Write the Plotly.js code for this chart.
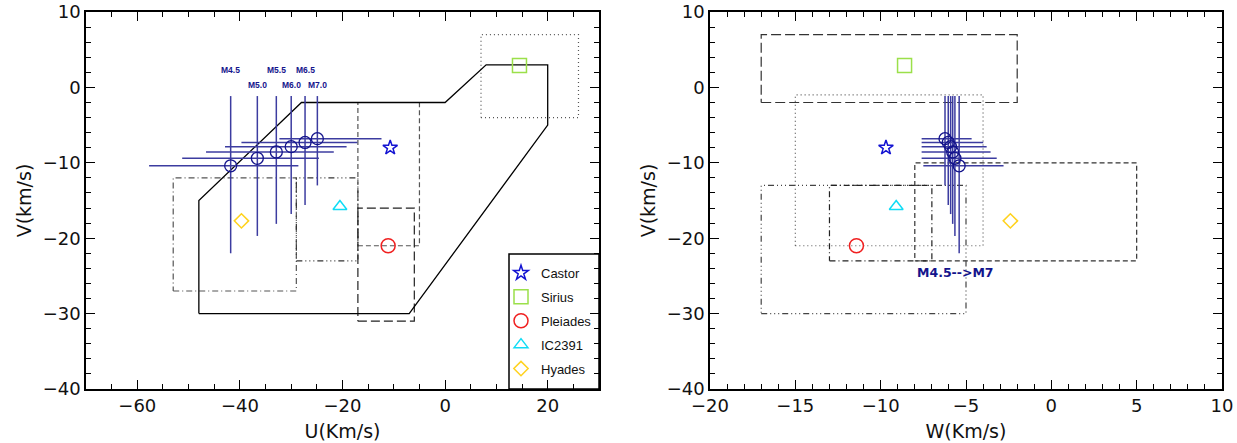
<!DOCTYPE html>
<html>
<head>
<meta charset="utf-8">
<script src="https://cdn.plot.ly/plotly-3.0.1.min.js"></script>
<style>html,body{margin:0;padding:0;background:#fff;}#chart{width:1237px;height:443px;}</style>
</head>
<body>
<div id="chart"></div>
<script>
// ---------- data ----------
const spTypes = ['M4.5','M5.0','M5.5','M6.0','M6.5','M7.0'];
const ptU  = [-41.8, -36.6, -32.9, -30.0, -27.3, -24.9];
const ptW  = [-5.40, -5.65, -5.78, -5.90, -6.04, -6.23];
const ptV  = [-10.4, -9.4, -8.57, -7.86, -7.3, -6.8];
const ptVtop = [-1.15, -1.15, -1.15, -1.15, -1.15, -1.15];
const ptVbot = [-22.0, -19.7, -18.1, -16.8, -15.6, -13.0];
const ptUlo = [-57.7, -51.25, -46.6, -42.9, -39.7, -32.3];
const ptUhi = [-28.6, -24.6, -21.7, -19.2, -17.1, -12.4];
const ptWlo = [-7.5, -7.6, -7.6, -7.6, -7.6, -7.6];
const ptWhi = [-2.8, -3.2, -3.56, -3.79, -3.99, -4.67];

const clNames = ['Castor','Sirius','Pleiades','IC2391','Hyades'];
const clU = [-10.7, 14.5, -11.1, -20.5, -39.7];
const clW = [-9.69, -8.6, -11.42, -9.09, -2.4];
const clV = [-8.0, 2.9, -21.0, -15.8, -17.7];

// kinematic regions, U-V plane
const polyU = [-48, -48, -28, 0, 8, 20, 20, -7, -48];
const polyV = [-30, -15, -2, -2, 3, 3, -5, -30, -30];
const boxUVu = [[7, 26], [-17, -5], [-17, -6], [-53, -29], [-29, -17]];
const boxUVv = [[-4, 7], [-21, -2], [-31, -16], [-27, -12], [-23, -12]];
// W-V plane
const boxWVw = [[-17, -2], [-15, -4], [-8, 5], [-17, -5], [-13, -7]];
const boxWVv = [[-2, 7], [-21, -1], [-23, -10], [-30, -13], [-23, -13]];

const rangeText = 'M4.5-->M7';

// ---------- styles ----------
const clSymbols = ['star-open','square-open','circle-open','triangle-up-open','diamond-open'];
const clColors = ['#1414d2','#9be04a','#f02020','#10dcf5','#ffd21e'];
const clSizes = [11, 14, 14, 12, 11];
const navy = '#14148c';
const barCol = '#3c3ca0';
const boxDashUV = ['1px,3px', '5px,3px', '9px,4px', '6px,3px,1px,3px', '6px,3px,1px,3px,1px,3px,1px,3px'];
const boxColUV = ['#555', '#555', '#222', '#555', '#333'];
const boxDashWV = ['10px,4px', '1px,3px', '5px,3px', '6px,3px,1px,3px,1px,3px,1px,3px', '6px,3px,1px,3px'];
const boxColWV = ['#333', '#555', '#333', '#444', '#222'];

const W = 1237, H = 443;
const fx = p => p / W, fy = p => 1 - p / H;

function rectXY(xr, yr) {
  return {x: [xr[0], xr[1], xr[1], xr[0], xr[0]], y: [yr[0], yr[0], yr[1], yr[1], yr[0]]};
}

const traces = [];
boxUVu.forEach((xr, i) => {
  const r = rectXY(xr, boxUVv[i]);
  traces.push({x: r.x, y: r.y, xaxis: 'x', yaxis: 'y', mode: 'lines', showlegend: false, hoverinfo: 'skip',
    line: {color: boxColUV[i], width: 1.2, dash: boxDashUV[i]}});
});
traces.push({x: polyU, y: polyV, xaxis: 'x', yaxis: 'y', mode: 'lines', showlegend: false,
  line: {color: '#000', width: 1.3}});
boxWVw.forEach((xr, i) => {
  const r = rectXY(xr, boxWVv[i]);
  traces.push({x: r.x, y: r.y, xaxis: 'x2', yaxis: 'y2', mode: 'lines', showlegend: false, hoverinfo: 'skip',
    line: {color: boxColWV[i], width: 1.2, dash: boxDashWV[i]}});
});

function errTrace(xs, xlo, xhi, ax, ay) {
  return {
    x: xs, y: ptV, xaxis: ax, yaxis: ay, mode: 'markers', showlegend: false,
    marker: {symbol: 'circle-open', size: 12, color: navy, line: {width: 1.3, color: navy}},
    error_x: {type: 'data', symmetric: false, array: xhi.map((v, i) => v - xs[i]), arrayminus: xs.map((v, i) => v - xlo[i]),
      width: 0, thickness: 1.5, color: barCol},
    error_y: {type: 'data', symmetric: false, array: ptVtop.map((v, i) => v - ptV[i]), arrayminus: ptV.map((v, i) => v - ptVbot[i]),
      width: 0, thickness: 1.5, color: barCol}
  };
}
traces.push(errTrace(ptU, ptUlo, ptUhi, 'x', 'y'));
traces.push(errTrace(ptW, ptWlo, ptWhi, 'x2', 'y2'));

clNames.forEach((n, i) => {
  const mk = {symbol: clSymbols[i], size: clSizes[i], color: clColors[i], line: {width: 1.5, color: clColors[i]}};
  traces.push({x: [clU[i]], y: [clV[i]], xaxis: 'x', yaxis: 'y', mode: 'markers', name: n,
    legendgroup: n, marker: mk});
  traces.push({x: [clW[i]], y: [clV[i]], xaxis: 'x2', yaxis: 'y2', mode: 'markers', name: n,
    legendgroup: n, showlegend: false, marker: mk});
});

const annotations = spTypes.map((s, i) => ({
  x: ptU[i], y: ptVtop[i], xref: 'x', yref: 'y', text: '<b>' + s + '</b>', showarrow: false,
  yshift: (i % 2 === 0) ? 26 : 11, font: {family: 'Liberation Sans', size: 8.5, color: navy}
}));
annotations.push({
  x: ptWlo[0], y: ptVbot[0], xref: 'x2', yref: 'y2', text: '<b>' + rangeText + '</b>', showarrow: false,
  xanchor: 'left', xshift: -8, yshift: -19, font: {family: 'DejaVu Sans', size: 12.5, color: navy}
});

const tickFont = {family: 'DejaVu Sans', size: 18, color: '#111'};
const titleFont = {family: 'DejaVu Sans', size: 19, color: '#111'};
function xAx(dom, rng, dt, mdt, title, anchor) {
  return {domain: dom, range: rng, anchor: anchor, dtick: dt, tick0: 0, ticks: 'inside', ticklen: 9, tickwidth: 1.3,
    tickcolor: '#000', showline: true, mirror: 'ticks', linecolor: '#000', linewidth: 1.5, showgrid: false,
    zeroline: false, tickfont: tickFont,
    minor: {dtick: mdt, tick0: 0, ticks: 'inside', ticklen: 5, tickwidth: 1, tickcolor: '#000', showgrid: false},
    title: {text: title, font: titleFont, standoff: 9}, automargin: false};
}
function yAx(dom, anchor) {
  return {domain: dom, range: [-40, 10], anchor: anchor, dtick: 10, tick0: 0, ticks: 'inside', ticklen: 9, tickwidth: 1.3,
    tickcolor: '#000', showline: true, mirror: 'ticks', linecolor: '#000', linewidth: 1.5, showgrid: false,
    zeroline: false, tickfont: tickFont,
    minor: {dtick: 2, tick0: 0, ticks: 'inside', ticklen: 5, tickwidth: 1, tickcolor: '#000', showgrid: false},
    title: {text: 'V(km/s)', font: titleFont, standoff: 6}, automargin: false};
}
const yDom = [fy(389), fy(12)];

const layout = {
  width: W, height: H, margin: {l: 0, r: 0, t: 0, b: 0},
  showlegend: true,
  xaxis: xAx([fx(86), fx(599)], [-70, 30], 20, 5, 'U(Km/s)', 'y'),
  yaxis: yAx(yDom, 'x'),
  xaxis2: xAx([fx(710), fx(1222)], [-20, 10], 5, 1, 'W(Km/s)', 'y2'),
  yaxis2: yAx(yDom, 'x2'),
  legend: {x: fx(501), y: fy(258), xanchor: 'left', yanchor: 'top', bgcolor: 'rgba(0,0,0,0)', borderwidth: 0,
    font: {family: 'Liberation Sans', size: 13, color: '#111'}, tracegroupgap: 4, itemwidth: 30},
  shapes: [{type: 'rect', xref: 'paper', yref: 'paper', x0: fx(509), x1: fx(599), y0: fy(389), y1: fy(254),
    line: {color: '#000', width: 1.5}, fillcolor: 'rgba(0,0,0,0)', layer: 'above'}],
  annotations: annotations
};

Plotly.newPlot('chart', traces, layout, {displayModeBar: false});
</script>
</body>
</html>
